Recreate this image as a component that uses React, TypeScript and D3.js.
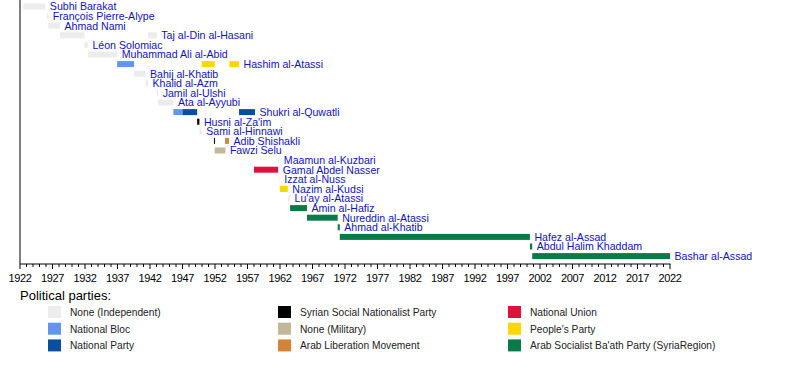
import React from "react";
import * as d3 from "d3";

const leaders = [
  "Subhi Barakat", "François Pierre-Alype", "Ahmad Nami", "Taj al-Din al-Hasani",
  "Léon Solomiac", "Muhammad Ali al-Abid", "Hashim al-Atassi", "Bahij al-Khatib",
  "Khalid al-Azm", "Jamil al-Ulshi", "Ata al-Ayyubi", "Shukri al-Quwatli",
  "Husni al-Za'im", "Sami al-Hinnawi", "Adib Shishakli", "Fawzi Selu",
  "Maamun al-Kuzbari", "Gamal Abdel Nasser", "Izzat al-Nuss", "Nazim al-Kudsi",
  "Lu'ay al-Atassi", "Amin al-Hafiz", "Nureddin al-Atassi", "Ahmad al-Khatib",
  "Hafez al-Assad", "Abdul Halim Khaddam", "Bashar al-Assad",
];

const partyNames = [
  "None (Independent)", "National Bloc", "National Party",
  "Syrian Social Nationalist Party", "None (Military)", "Arab Liberation Movement",
  "National Union", "People's Party", "Arab Socialist Ba'ath Party (SyriaRegion)",
];
const partyColors = [
  "#ececec", "#6495ed", "#0a4f9e",
  "#000000", "#c2b799", "#d2853a",
  "#dc143c", "#ffd700", "#0a7a48",
];

// terms: leader index, party index, start year, end year
const termLeader = [0, 1, 2, 3, 3, 4, 5, 6, 6, 6, 7, 8, 9, 10, 11, 11, 11, 12, 13, 14, 14, 15, 16, 17, 18, 19, 20, 21, 22, 23, 24, 25, 26];
const termParty =  [0, 0, 0, 0, 0, 0, 0, 1, 7, 7, 0, 0, 0, 0, 1, 2, 2, 3, 0, 3, 5, 4, 0, 6, 0, 7, 0, 8, 8, 8, 8, 8, 8];
const termStart = [1922.5, 1926.1, 1926.35, 1928.15, 1941.7, 1931.9, 1932.45, 1936.95, 1949.95, 1954.2, 1939.55, 1941.3, 1943.05, 1943.25, 1945.6, 1947.0, 1955.7, 1949.25, 1949.6, 1951.85, 1953.55, 1951.95, 1961.7, 1958.0, 1961.9, 1961.97, 1963.2, 1963.55, 1966.15, 1970.88, 1971.2, 2000.45, 2000.8];
const termEnd =   [1925.9, 1926.35, 1928.15, 1931.9, 1943.05, 1932.45, 1936.95, 1939.55, 1951.95, 1955.7, 1941.3, 1941.7, 1943.25, 1945.6, 1947.0, 1949.25, 1958.15, 1949.6, 1949.95, 1951.97, 1954.15, 1953.6, 1961.9, 1961.72, 1961.97, 1963.2, 1963.55, 1966.15, 1970.88, 1971.2, 2000.45, 2000.8, 2022.0];

const tickYears = [1922, 1927, 1932, 1937, 1942, 1947, 1952, 1957, 1962, 1967, 1972, 1977, 1982, 1987, 1992, 1997, 2002, 2007, 2012, 2017, 2022];

const W = 800;
const H = 383;

export default function App() {
  const x = d3.scaleLinear().domain([1922, 2022]).range([20, 670]);
  const y = d3.scaleLinear().domain([0, leaders.length - 1]).range([6.5, 256.1]);
  const axisY = 264;
  const barH = 6;
  const font = "'Liberation Sans', Arial, sans-serif";

  const lastEnd = leaders.map((_, i) =>
    d3.max(termEnd.filter((_, k) => termLeader[k] === i)) as number
  );
  const minorYears = d3.range(1922, 2023, 1);

  return (
    <svg width={W} height={H} style={{ position: "absolute", left: 0, top: 0, background: "#fff" }} fontFamily={font}>
      {/* bars */}
      {termLeader.map((li, k) => {
        const x0 = x(termStart[k]);
        const w = Math.max(1, x(termEnd[k]) - x0);
        return (
          <rect key={"b" + k} x={x0} y={y(li) - barH / 2} width={w} height={barH} fill={partyColors[termParty[k]]} />
        );
      })}
      {/* labels */}
      {leaders.map((n, i) => (
        <text key={"l" + i} x={x(lastEnd[i]) + 4.5} y={y(i) + 3.8} fontSize={10.6} fill="#1212bd">
          {n}
        </text>
      ))}
      {/* axes */}
      <line x1={20} x2={20} y1={0} y2={axisY} stroke="#000" strokeWidth={1} />
      <line x1={20} x2={670.5} y1={axisY} y2={axisY} stroke="#000" strokeWidth={1} />
      {minorYears.map((yr) => (
        <line key={"m" + yr} x1={x(yr)} x2={x(yr)} y1={axisY} y2={axisY + ((yr - 1922) % 5 === 0 ? 5 : 3)} stroke="#000" strokeWidth={1} />
      ))}
      {tickYears.map((yr) => (
        <text key={"t" + yr} x={x(yr)} y={282} fontSize={11} textAnchor="middle" fill="#000" letterSpacing={-0.4}>
          {yr}
        </text>
      ))}
      {/* legend */}
      <text x={20} y={300} fontSize={13} fill="#000">Political parties:</text>
      {partyNames.map((p, i) => {
        const col = Math.floor(i / 3);
        const row = i % 3;
        const sx = 48 + col * 230;
        const sy = 306 + row * 16.7;
        return (
          <g key={"p" + i}>
            <rect x={sx} y={sy} width={13} height={12} fill={partyColors[i]} />
            <text x={sx + 22} y={sy + 10} fontSize={10.2} fill="#222">{p}</text>
          </g>
        );
      })}
    </svg>
  );
}
